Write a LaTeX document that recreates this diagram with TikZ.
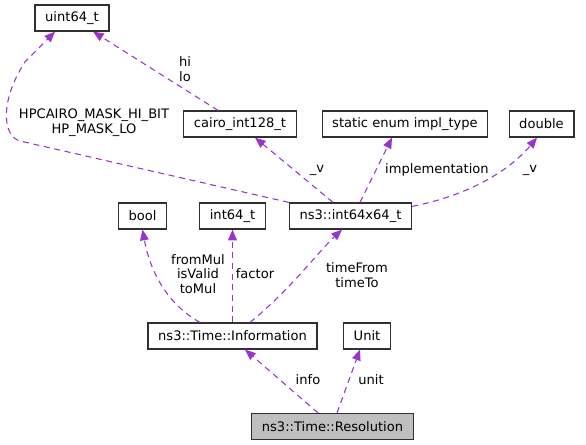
\documentclass[tikz,border=0pt]{standalone}
\usepackage{fontspec}
\setmainfont{DejaVu Sans}
\usetikzlibrary{arrows.meta,calc}
\definecolor{edgepurple}{HTML}{9A32CD}
\definecolor{classgray}{HTML}{BFBFBF}
\definecolor{borderdark}{HTML}{303030}
\tikzset{
  classbox/.style={draw=borderdark,line width=0.9pt,minimum height=19.5pt,inner xsep=7.6pt,inner ysep=0pt},
  uses/.style={draw=edgepurple,line width=0.8pt,dash pattern=on 4.5pt off 3.5pt,-{Triangle[length=8pt,width=6.5pt]}},
  edgelabel/.style={align=center,inner sep=0pt}
}
\begin{document}
\begin{tikzpicture}[x=0.75pt,y=-0.75pt]
\fontsize{9.8}{11}\selectfont
\useasboundingbox (0,0) rectangle (586,445);
\node [classbox] (uint) at (72,18) {uint64\_t};
\node [classbox] (cairo) at (240,124) {cairo\_int128\_t};
\node [classbox] (impl) at (405,124) {static enum impl\_type};
\node [classbox] (dbl) at (541.5,124) {double};
\node [classbox] (i64x64) at (350.5,216) {ns3::int64x64\_t};
\node [classbox] (bool) at (142.5,216) {bool};
\node [classbox] (i64) at (232.5,216) {int64\_t};
\node [classbox] (info) at (232.5,336) {ns3::Time::Information};
\node [classbox] (unit) at (367,336) {Unit};
\node [classbox,fill=classgray] (res) at (332.5,426.5) {ns3::Time::Resolution};
\draw [uses] ($(cairo.north)+(-22,0)$) -- ($(uint.south)+(21,0)$);
\node [edgelabel] (lhilo) at (185,69) {hi\\lo};
\draw [uses] (i64x64.north west) -- (20,141) .. controls (2,136) and (0,100) .. (25,62) -- ($(uint.south)+(-17,0)$);
\node [edgelabel] (lmask) at (94,123) {HPCAIRO\_MASK\_HI\_BIT\\HP\_MASK\_LO};
\draw [uses] ($(i64x64.north)+(-17.5,0)$) -- ($(cairo.south)+(15,0)$);
\node [edgelabel] (lv) at (317,170) {\_v};
\draw [uses] ($(i64x64.north)+(9.5,0)$) -- ($(impl.south)+(-13,0)$);
\node [edgelabel] (limpl) at (437,170) {implementation};
\draw [uses] ($(i64x64.north east)+(0,4)$) .. controls (470,195) and (510,170) .. ($(dbl.south)+(-4.5,0)$);
\node [edgelabel] (lvd) at (530,170) {\_v};
\draw [uses] ($(info.north)+(-32.5,0)$) .. controls (160,300) and (148,260) .. (bool.south);
\node [edgelabel] (lbool) at (198,274) {fromMul\\isValid\\toMul};
\draw [uses] (info.north) -- (i64.south);
\node [edgelabel] (lfactor) at (255,274) {factor};
\draw [uses] ($(info.north)+(17.5,0)$) .. controls (290,290) and (320,250) .. ($(i64x64.south)+(-8.5,0)$);
\node [edgelabel] (ltime) at (357,275) {timeFrom\\timeTo};
\draw [uses] ($(res.north)+(-14.5,0)$) -- ($(info.south)+(12.5,0)$);
\node [edgelabel] (linfo) at (308,380) {info};
\draw [uses] ($(res.north)+(4.5,0)$) -- ($(unit.south)+(-7,0)$);
\node [edgelabel] (lunit) at (371,380) {unit};
\end{tikzpicture}
\end{document}
